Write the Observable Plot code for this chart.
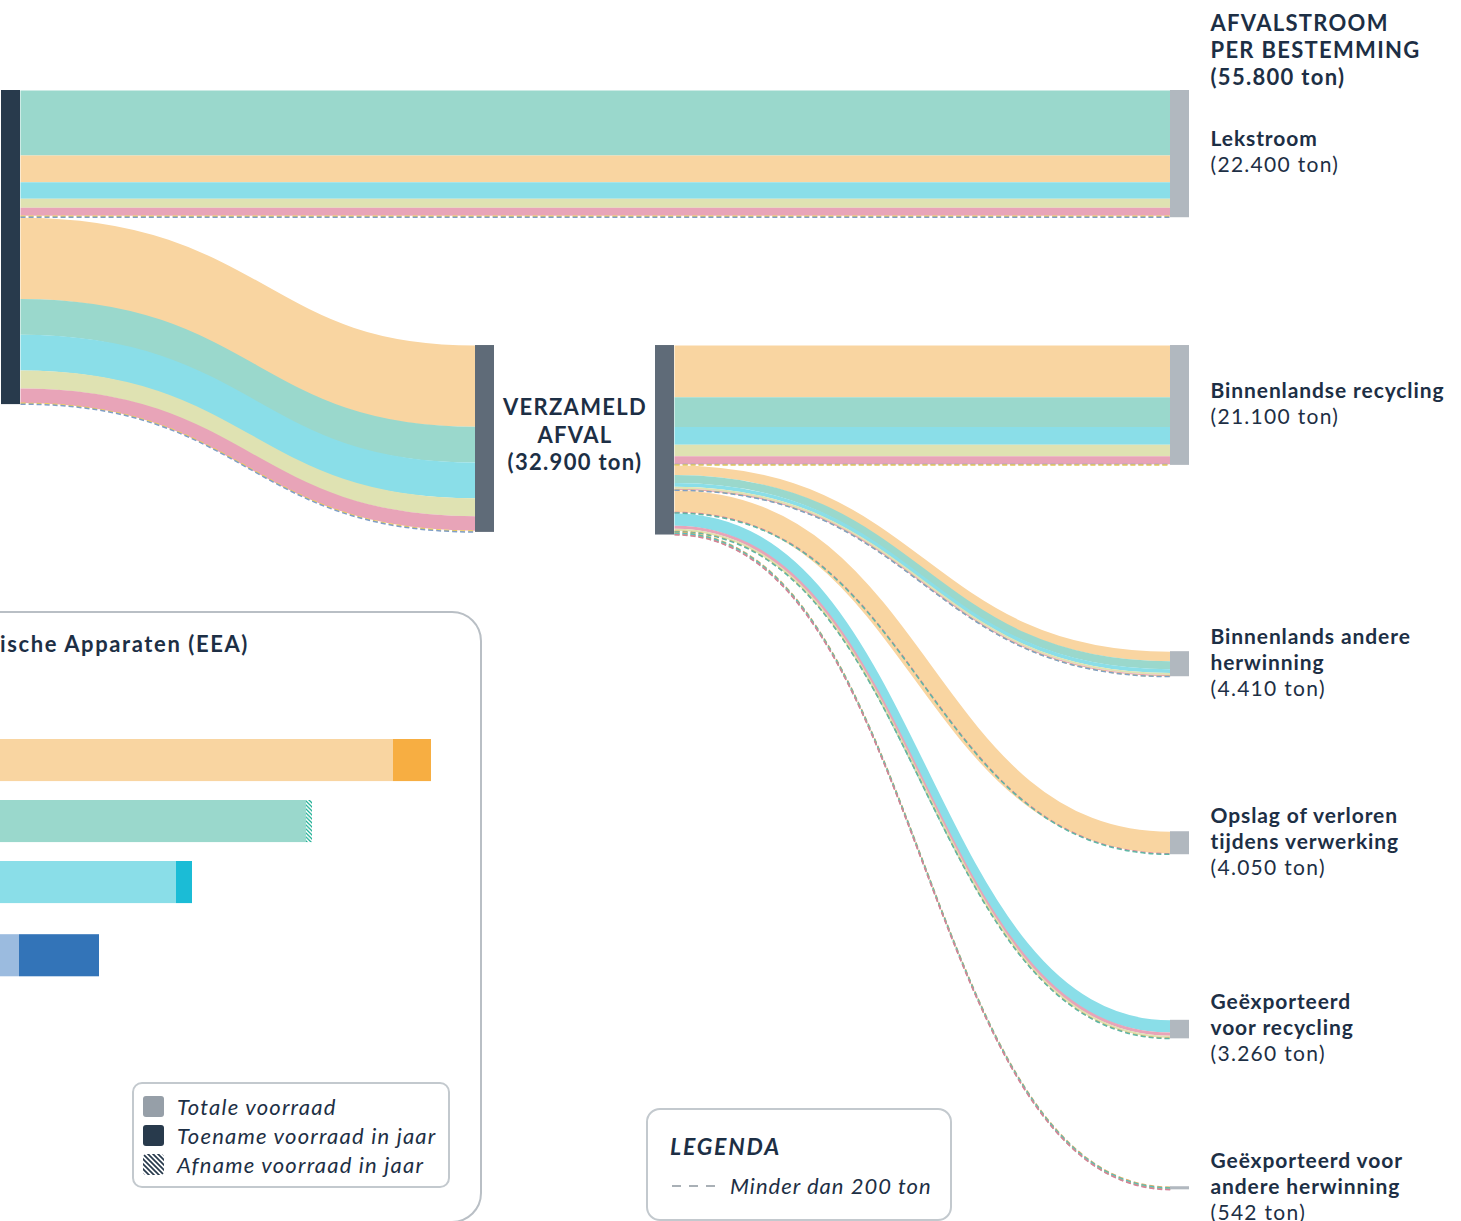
<!DOCTYPE html>
<html lang="nl">
<head>
<meta charset="utf-8">
<title>Afvalstroom per bestemming</title>
<script src="https://cdn.jsdelivr.net/npm/d3@7"></script>
<script src="https://cdn.jsdelivr.net/npm/@observablehq/plot@0.6"></script>
<style>
  html, body { margin:0; padding:0; background:#fff; }
  body { width:1461px; height:1221px; position:relative; overflow:hidden;
         font-family: Lato, "Noto Sans", sans-serif; color:#1d2f45; }
  #sankey { position:absolute; left:0; top:0; }
  #panel { position:absolute; left:-700px; top:611px; width:1182px; height:612px;
           border:2px solid #b9bfc5; border-radius:30px; box-sizing:border-box; }
  #panel-title { position:absolute; right:1212px; top:630px; white-space:nowrap;
                 font-weight:700; font-size:22px; line-height:28px; letter-spacing:1.6px; }
  #bars { position:absolute; left:-300px; top:739px; }
  #stock-legend { position:absolute; left:132px; top:1082px; width:318px; height:106px;
                  border:2px solid #c3c9ce; border-radius:10px; box-sizing:border-box; }
  .lrow { position:absolute; left:9px; height:22px; display:flex; align-items:center; }
  .lrow .sw { width:21px; height:21px; border-radius:3px; margin-right:13px; flex:none; }
  .lrow span { font-style:italic; font-size:22px; letter-spacing:1.2px; white-space:nowrap; }
  #legenda { position:absolute; left:646px; top:1108px; width:306px; height:113px;
             border:2px solid #c3c9ce; border-radius:14px; box-sizing:border-box; }
  #legenda .title { position:absolute; left:22px; top:22px; font-weight:700; font-style:italic;
                    font-size:23px; letter-spacing:1.8px; }
  #legenda .row { position:absolute; left:24px; top:62px; display:flex; align-items:center; }
  #legenda .row span { font-style:italic; font-size:22px; letter-spacing:1px; margin-left:8px; white-space:nowrap; }
</style>
</head>
<body>
<svg width="0" height="0" style="position:absolute">
  <defs>
    <pattern id="hatchTeal" patternUnits="userSpaceOnUse" width="4" height="4">
      <rect width="4" height="4" fill="#ffffff"/>
      <path d="M0,0 L4,4 M-1,3 L1,5 M3,-1 L5,1" stroke="#2bb39a" stroke-width="1.3"/>
    </pattern>
    <pattern id="hatchNavy" patternUnits="userSpaceOnUse" width="5" height="5">
      <rect width="5" height="5" fill="#ffffff"/>
      <path d="M0,0 L5,5 M-1,4 L1,6 M4,-1 L6,1" stroke="#283a4c" stroke-width="1.7"/>
    </pattern>
  </defs>
</svg>

<div id="sankey"></div>
<div id="panel"></div>
<div id="panel-title">Elektrische en Elektronische Apparaten (EEA)</div>
<div id="bars"></div>

<div id="stock-legend">
  <div class="lrow" style="top:11px"><div class="sw" style="background:#969fa8"></div><span>Totale voorraad</span></div>
  <div class="lrow" style="top:40px"><div class="sw" style="background:#283a4c"></div><span>Toename voorraad in jaar</span></div>
  <div class="lrow" style="top:69px"><svg class="sw" width="21" height="21" viewBox="0 0 21 21"><rect width="21" height="21" rx="3" fill="url(#hatchNavy)"/></svg><span>Afname voorraad in jaar</span></div>
</div>

<div id="legenda">
  <div class="title">LEGENDA</div>
  <div class="row">
    <svg width="50" height="4"><line x1="0" y1="2" x2="50" y2="2" stroke="#8d969e" stroke-width="1.5" stroke-dasharray="9,8"/></svg>
    <span>Minder dan 200 ton</span>
  </div>
</div>

<script>
// ---------- categories ----------
const categories = ["Kleine apparaten", "Grote apparaten", "Warmte-uitwisselingsapparatuur",
                    "Kleine ICT", "Schermen en monitoren", "Lampen", "Zonnepanelen"];
const categoryColors = ["#9ad8cc", "#f9d5a1", "#8adee8", "#dfe2b2", "#e8a4b8", "#fbe59a", "#9bbbdf"];
const dashColors     = ["#5fb8a6", "#e2b06a", "#55c2d3", "#b3b776", "#d5819a", "#efcd55", "#7f9fc8"];

// ---------- flows (ton) ----------
const lekstroomCats   = ["Kleine apparaten", "Grote apparaten", "Warmte-uitwisselingsapparatuur", "Kleine ICT", "Schermen en monitoren", "Lampen", "Zonnepanelen"];
const lekstroomValues = [11450, 4690, 2920, 1590, 1420, 150, 180];

const verzameldCats   = ["Grote apparaten", "Kleine apparaten", "Warmte-uitwisselingsapparatuur", "Kleine ICT", "Schermen en monitoren", "Lampen", "Zonnepanelen"];
const verzameldValues = [14300, 6300, 6300, 3150, 2550, 150, 150];

const recyclingCats   = ["Grote apparaten", "Kleine apparaten", "Warmte-uitwisselingsapparatuur", "Kleine ICT", "Schermen en monitoren", "Zonnepanelen", "Lampen"];
const recyclingValues = [9100, 5250, 3100, 2050, 1400, 100, 100];

const andereCats   = ["Grote apparaten", "Kleine apparaten", "Warmte-uitwisselingsapparatuur", "Kleine ICT", "Schermen en monitoren", "Lampen", "Zonnepanelen"];
const andereValues = [1700, 1400, 650, 350, 220, 50, 40];

const opslagCats   = ["Grote apparaten", "Schermen en monitoren", "Kleine apparaten"];
const opslagValues = [3820, 100, 130];

const exportRecCats   = ["Warmte-uitwisselingsapparatuur", "Schermen en monitoren", "Kleine ICT", "Grote apparaten", "Kleine apparaten"];
const exportRecValues = [2150, 560, 360, 100, 90];

const exportAndCats   = ["Grote apparaten", "Kleine apparaten", "Warmte-uitwisselingsapparatuur", "Kleine ICT", "Schermen en monitoren"];
const exportAndValues = [150, 120, 130, 80, 62];

// ---------- labels ----------
const destIds     = ["lek", "brec", "band", "opslag", "exrec", "exand"];
const destNames   = ["Lekstroom", "Binnenlandse recycling", "Binnenlands andere\nherwinning",
                     "Opslag of verloren\ntijdens verwerking", "Geëxporteerd\nvoor recycling",
                     "Geëxporteerd voor\nandere herwinning"];
const destAmounts = ["(22.400 ton)", "(21.100 ton)", "(4.410 ton)", "(4.050 ton)", "(3.260 ton)", "(542 ton)"];
const headerText    = "AFVALSTROOM\nPER BESTEMMING\n(55.800 ton)";
const verzameldText = "VERZAMELD\nAFVAL\n(32.900 ton)";

// ---------- stock bar chart (estimated, kton) ----------
const stockCategories = ["Grote apparaten", "Kleine apparaten", "Warmte-uitwisselingsapparatuur", "Zonnepanelen"];
const stockEnd    = [731, 606, 492, 399];
const stockChange = [38, -6, 16, 80];
const stockLight  = ["#f9d5a1", "#9ad8cc", "#8adee8", "#9bbbdf"];
const stockDark   = ["#f7ae42", "#2bb39a", "#1bbcd6", "#3374b8"];

// ---------- layout ----------
const W = 1461, H = 1221;
const pxPerTon = 0.00568;
const chartTop = 90;
const nodeWidth = 19;
const nodeX = {bron: 1, verzIn: 475, verzOut: 655, lek: 1170, brec: 1170, band: 1170, opslag: 1170, exrec: 1170, exand: 1170};
const nodeTop = {bron: 0, lek: 0, verzIn: 44900, verzOut: 44900, brec: 44900, band: 98800, opslag: 130500, exrec: 163700, exand: 193000};
const smallFlow = 200;

const flowGroups = [
  {from: "bron",    to: "lek",    cats: lekstroomCats, values: lekstroomValues},
  {from: "bron",    to: "verzIn", cats: verzameldCats, values: verzameldValues},
  {from: "verzOut", to: "brec",   cats: recyclingCats, values: recyclingValues},
  {from: "verzOut", to: "band",   cats: andereCats,    values: andereValues},
  {from: "verzOut", to: "opslag", cats: opslagCats,    values: opslagValues},
  {from: "verzOut", to: "exrec",  cats: exportRecCats, values: exportRecValues},
  {from: "verzOut", to: "exand",  cats: exportAndCats, values: exportAndValues}
];

const outSum = {}, inSum = {};
const links = [];
for (const g of flowGroups) {
  g.cats.forEach((cat, i) => {
    const v = g.values[i];
    const s0 = outSum[g.from] ?? 0, t0 = inSum[g.to] ?? 0;
    outSum[g.from] = s0 + v; inSum[g.to] = t0 + v;
    links.push({
      cat, value: v, from: g.from, to: g.to,
      xs: nodeX[g.from] + nodeWidth, xt: nodeX[g.to],
      ys: nodeTop[g.from] + s0 + v / 2, yt: nodeTop[g.to] + t0 + v / 2
    });
  });
}
const nodeList = Object.keys(nodeX).map(id => ({
  id, x1: nodeX[id], x2: nodeX[id] + nodeWidth,
  y1: nodeTop[id], y2: nodeTop[id] + Math.max(outSum[id] ?? 0, inSum[id] ?? 0)
}));
const nodeById = Object.fromEntries(nodeList.map(n => [n.id, n]));
const bigLinks = links.filter(d => d.value >= smallFlow);
const smallLinks = links.filter(d => d.value < smallFlow);
const dashKey = c => c + " (<200 ton)";

const dests = destIds.map((id, i) => ({
  id, name: destNames[i], amount: destAmounts[i],
  lines: destNames[i].split("\n").length,
  x: nodeX[id] + nodeWidth + 21,
  y: (nodeById[id].y1 + nodeById[id].y2) / 2
}));

const sankey = Plot.plot({
  width: W, height: H, margin: 0,
  x: {domain: [0, W], range: [0, W], axis: null},
  y: {domain: [-chartTop / pxPerTon, (H - chartTop) / pxPerTon], range: [0, H], axis: null},
  color: {domain: [...categories, ...categories.map(dashKey)], range: [...categoryColors, ...dashColors]},
  style: {fontFamily: "Lato, 'Noto Sans', sans-serif", color: "#1d2f45", background: "transparent", overflow: "visible"},
  marks: [
    Plot.link(bigLinks, {x1: "xs", x2: "xt", y1: "ys", y2: "yt", curve: "bump-x",
      stroke: "cat", strokeWidth: d => d.value * pxPerTon, strokeLinecap: "butt"}),
    Plot.link(smallLinks, {x1: "xs", x2: "xt", y1: "ys", y2: "yt", curve: "bump-x",
      stroke: d => dashKey(d.cat), strokeWidth: 1.5, strokeDasharray: "5,3"}),
    Plot.rect(nodeList.filter(d => d.id === "bron"), {x1: "x1", x2: "x2", y1: "y1", y2: "y2", fill: "#283a4c"}),
    Plot.rect(nodeList.filter(d => d.id.startsWith("verz")), {x1: "x1", x2: "x2", y1: "y1", y2: "y2", fill: "#5f6b78"}),
    Plot.rect(nodeList.filter(d => destIds.includes(d.id)), {x1: "x1", x2: "x2", y1: "y1", y2: "y2", fill: "#b1b8bf"}),
    Plot.text(dests, {x: "x", y: "y", text: d => d.name + "\n", textAnchor: "start", lineAnchor: "middle",
      fontWeight: 700, fontSize: 21, lineHeight: 1.24, dy: -3, className: "lbl-name"}),
    Plot.text(dests, {x: "x", y: "y", text: d => "\n".repeat(d.lines) + d.amount, textAnchor: "start", lineAnchor: "middle",
      fontWeight: 400, fontSize: 21, lineHeight: 1.24, dy: -3, className: "lbl-amount"}),
    Plot.text([headerText], {x: () => nodeX.lek + nodeWidth + 21, y: () => nodeTop.lek, text: d => d,
      textAnchor: "start", lineAnchor: "middle", fontWeight: 700, fontSize: 22, lineHeight: 1.22, dy: -41, className: "lbl-caps"}),
    Plot.text([verzameldText], {x: () => (nodeX.verzIn + nodeWidth + nodeX.verzOut) / 2,
      y: () => (nodeById.verzIn.y1 + nodeById.verzIn.y2) / 2, text: d => d,
      textAnchor: "middle", lineAnchor: "middle", fontWeight: 700, fontSize: 22, lineHeight: 1.24, dy: -5, className: "lbl-caps"})
  ]
});
d3.select(sankey).selectAll(".lbl-name").style("letter-spacing", "0.9px");
d3.select(sankey).selectAll(".lbl-amount").style("letter-spacing", "1.3px");
d3.select(sankey).selectAll(".lbl-caps").style("letter-spacing", "1.3px");
document.getElementById("sankey").appendChild(sankey);

// ---------- stock bars ----------
const rowPos = [0, 1, 2, 3.2];
const barThickness = 0.69;
const stock = stockCategories.map((c, i) => ({
  cat: c, end: stockEnd[i], change: stockChange[i],
  base: stockChange[i] > 0 ? stockEnd[i] - stockChange[i] : stockEnd[i],
  light: stockLight[i], dark: stockDark[i],
  y1: rowPos[i], y2: rowPos[i] + barThickness
}));
const bars = Plot.plot({
  width: 800, height: 260, margin: 0,
  x: {domain: [0, 800], range: [0, 800], axis: null},
  y: {domain: [0, 4], range: [0, 244], axis: null},
  color: {type: "identity"},
  style: {background: "transparent", overflow: "visible"},
  marks: [
    Plot.rect(stock, {x1: 0, x2: "base", y1: "y1", y2: "y2", fill: "light"}),
    Plot.rect(stock.filter(d => d.change > 0), {x1: "base", x2: "end", y1: "y1", y2: "y2", fill: "dark"}),
    Plot.rect(stock.filter(d => d.change < 0), {x1: "end", x2: d => d.end - d.change, y1: "y1", y2: "y2", fill: "url(#hatchTeal)"})
  ]
});
document.getElementById("bars").appendChild(bars);
</script>
</body>
</html>
